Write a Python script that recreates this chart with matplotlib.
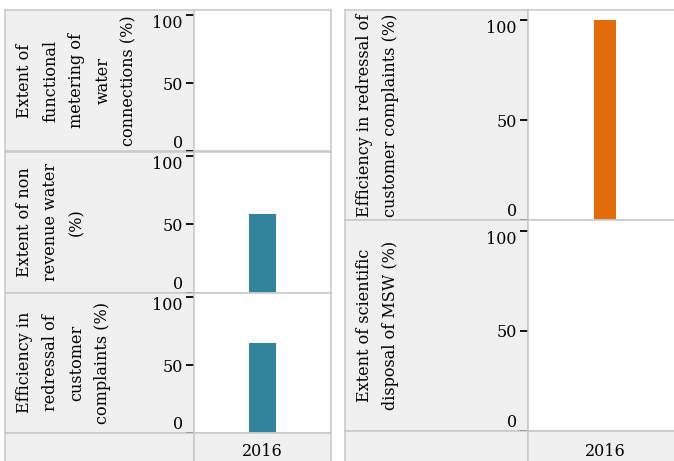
import numpy as np
import matplotlib.pyplot as plt

plt.rcParams['font.family'] = 'DejaVu Serif'
plt.rcParams['font.size'] = 11.5

# data
years = ["2016"]
left_titles = ["Extent of\nfunctional\nmetering of\nwater\nconnections (%)",
               "Extent of non\nrevenue water\n(%)",
               "Efficiency in\nredressal of\ncustomer\ncomplaints (%)"]
left_values = [np.nan, 58, 66]
right_titles = ["Efficiency in redressal of\ncustomer complaints (%)",
                "Extent of scientific\ndisposal of MSW (%)"]
right_values = [100, np.nan]
yticks = [0, 50, 100]

teal = "#31849b"
orange = "#e36c0a"
grey_bg = "#f0f0f0"
border = "#c8c8c8"

W, H = 674, 461
fig = plt.figure(figsize=(W / 100, H / 100), dpi=100)


def box(x0, y0, x1, y1):
    return [x0 / W, 1 - y1 / H, (x1 - x0) / W, (y1 - y0) / H]


def frame(ax):
    for s in ax.spines.values():
        s.set_color(border)
        s.set_linewidth(1.1)


def panel(gx0, px0, px1, rows, xtop, titles, values, color, ymax, bw):
    for (top, bot), title, val in zip(rows, titles, values):
        lab = fig.add_axes(box(gx0, top, px0, bot), facecolor=grey_bg)
        lab.set_xticks([])
        lab.set_yticks([])
        frame(lab)
        fig.text((gx0 + 11) / W, 1 - (top + bot) / 2 / H, title, rotation=90,
                 ha='left', va='center', multialignment='center',
                 linespacing=1.7)

        ax = fig.add_axes(box(px0, top, px1, bot), facecolor='white')
        frame(ax)
        ax.bar(years, [val], width=bw, color=color)
        ax.set_xlim(-0.5, 0.5)
        ax.set_ylim(0, ymax)
        ax.set_xticks([])
        ax.set_yticks(yticks)
        ax.tick_params(axis='y', length=6, width=1.3, color='black', pad=2)
        tk = ax.yaxis.get_major_ticks()
        tk[0].label1.set_va('bottom')
        tk[0].tick1line.set_color(border)
        tk[2].label1.set_va('top')

    # x axis row
    xa = fig.add_axes(box(gx0, xtop, px0, H + 5), facecolor=grey_bg)
    xa.set_xticks([])
    xa.set_yticks([])
    frame(xa)
    xb = fig.add_axes(box(px0, xtop, px1, H + 5), facecolor=grey_bg)
    xb.set_xlim(-0.5, 0.5)
    xb.set_ylim(0, 1)
    xb.set_xticks([])
    xb.set_yticks([])
    frame(xb)
    for i, yr in enumerate(years):
        xb.text(i, 1 - (443 - xtop) / (H + 5 - xtop), yr, ha='center', va='top')


panel(5, 194, 331, [(10, 151.5), (151.5, 292.5), (292.5, 433)], 433,
      left_titles, left_values, teal, 103.6, 0.19)
panel(345, 528, 682, [(10, 220.5), (220.5, 431)], 431,
      right_titles, right_values, orange, 105, 0.143)

fig.savefig("out.png", dpi=100)
